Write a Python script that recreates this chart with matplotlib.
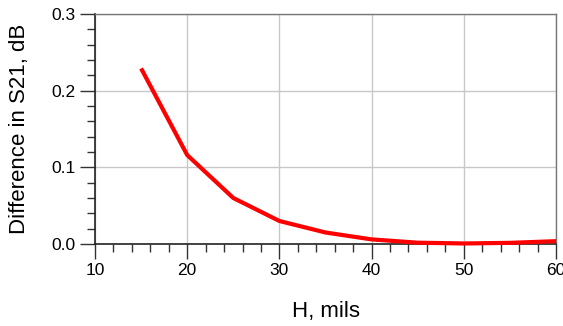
import matplotlib
matplotlib.use("Agg")
import matplotlib.pyplot as plt
from matplotlib.ticker import MultipleLocator

plt.rcParams['font.family'] = ['Liberation Sans', 'DejaVu Sans']

h_mils = [15, 20, 25, 30, 35, 40, 45, 50, 55, 60]
diff_s21 = [0.229, 0.116, 0.060, 0.030, 0.015, 0.006, 0.0017, 0.0007, 0.0015, 0.0037]

fig = plt.figure(figsize=(5.63, 3.26), dpi=100)
ax = fig.add_axes([95/563, 1-244/326, (556-95)/563, (244-14)/326])

ax.plot(h_mils, diff_s21, color='#ff0000', linewidth=3.0, solid_capstyle='butt', clip_on=False, zorder=3)

ax.set_xlim(10, 60)
ax.set_ylim(0, 0.3)
ax.xaxis.set_major_locator(MultipleLocator(10))
ax.xaxis.set_minor_locator(MultipleLocator(2))
ax.yaxis.set_major_locator(MultipleLocator(0.1))
ax.yaxis.set_minor_locator(MultipleLocator(0.02))
ax.yaxis.set_major_formatter(matplotlib.ticker.FormatStrFormatter('%.1f'))

ax.grid(True, which='major', color='#c8c8c8', linewidth=1.0)
ax.set_axisbelow(True)
ax.tick_params(which='major', direction='out', length=11, width=1, color='#333333', labelsize=12.5, pad=3)
ax.tick_params(which='minor', direction='out', length=6, width=1, color='#333333')
for s in ['left', 'bottom']:
    ax.spines[s].set_color('#222222')
    ax.spines[s].set_linewidth(1.2)
for s in ['top', 'right']:
    ax.spines[s].set_color('#777777')
    ax.spines[s].set_linewidth(1.0)

ax.set_xlabel('H, mils', fontsize=16, labelpad=16)
ax.set_ylabel('Difference in S21, dB', fontsize=16, labelpad=15)

fig.savefig('out.png', dpi=100)
